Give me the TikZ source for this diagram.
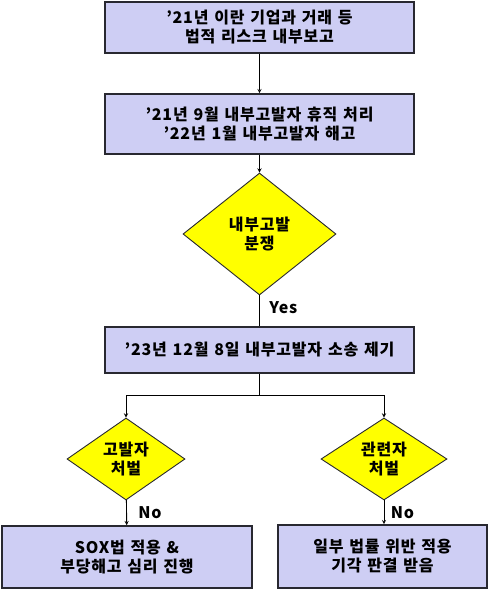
\documentclass[tikz,border=0pt]{standalone}
\usepackage{fontspec}
\setmainfont{Noto Sans CJK KR}[LetterSpace=5, WordSpace=1.3]
\usetikzlibrary{shapes.geometric}
\definecolor{boxblue}{RGB}{206,206,244}
\definecolor{diayellow}{RGB}{255,255,0}
\definecolor{edgegray}{RGB}{40,40,48}
\begin{document}
\begin{tikzpicture}[x=1pt, y=-1pt, >=stealth,
    stepbox/.style={draw=edgegray, line width=1.6pt, fill=boxblue, inner sep=0pt,
        align=center, font=\fontsize{16}{19}\selectfont\bfseries},
    choice/.style={diamond, draw=edgegray, line width=0.9pt, fill=diayellow, inner sep=0pt,
        align=center, font=\fontsize{16}{19}\selectfont\bfseries},
    link/.style={draw=black, line width=0.9pt},
    tag/.style={font=\fontsize{16}{19}\selectfont\bfseries}]
    \useasboundingbox (0,0) rectangle (488,591);
    % main column
    \node[stepbox, minimum width=309pt, minimum height=51pt] (report) at (259.5,27.5)
        {’21년 이란 기업과 거래 등\\법적 리스크 내부보고};
    \node[stepbox, minimum width=309pt, minimum height=60pt] (leave) at (259.5,124)
        {’21년 9월 내부고발자 휴직 처리\\’22년 1월 내부고발자 해고};
    \node[choice, minimum width=153pt, minimum height=122pt] (dispute) at (259.5,234)
        {내부고발\\분쟁};
    \node[stepbox, minimum width=309pt, minimum height=46pt] (suit) at (259.5,350)
        {’23년 12월 8일 내부고발자 소송 제기};
    % two branches
    \node[choice, minimum width=118pt, minimum height=82pt] (whistle) at (126,459)
        {고발자\\처벌};
    \node[choice, minimum width=126pt, minimum height=82pt] (related) at (384,459)
        {관련자\\처벌};
    \node[stepbox, minimum width=250pt, minimum height=62pt] (sox) at (127,557)
        {SOX법 적용 \&\\부당해고 심리 진행};
    \node[stepbox, minimum width=209pt, minimum height=63pt] (ruling) at (382.5,556.5)
        {일부 법률 위반 적용\\기각 판결 받음};
    \coordinate (split) at (259.5,395);
    % connectors
    \draw[link, ->] (report) -- (leave);
    \draw[link, ->] (leave) -- (dispute);
    \draw[link] (dispute) -- (suit) node[tag, pos=0.4, right=6pt] {Yes};
    \draw[link] (suit) -- (split);
    \draw[link, ->] (split) -| (whistle.north);
    \draw[link, ->] (split) -| (related.north);
    \draw[link, ->] (whistle) -- (sox) node[tag, midway, right=8pt] {No};
    \draw[link, ->] (related) -- (ruling.north -| related) node[tag, midway, right=3pt] {No};
\end{tikzpicture}
\end{document}
